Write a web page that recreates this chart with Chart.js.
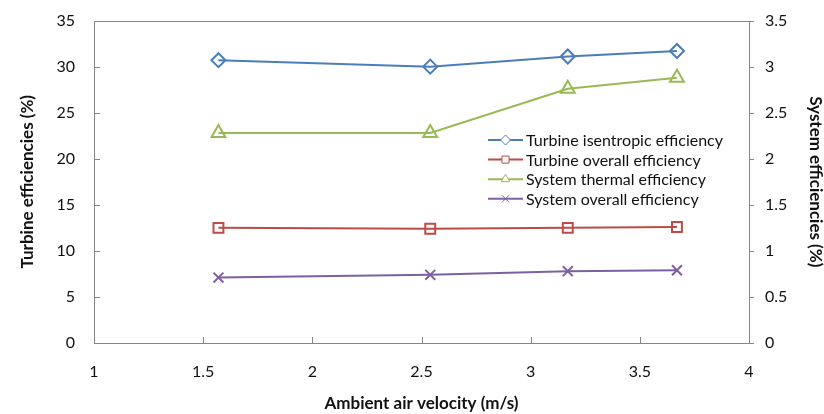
<!DOCTYPE html>
<html>
<head>
<meta charset="utf-8">
<script src="https://cdn.jsdelivr.net/npm/chart.js@4"></script>
<style>
  body { margin: 0; background: #fff; }
</style>
</head>
<body>
<canvas id="effChart" width="824" height="414"></canvas>
<script>
// data
const velocity = [1.57, 2.54, 3.17, 3.67];
const turbineIsentropic = [30.7, 30.0, 31.1, 31.7];
const turbineOverall = [12.5, 12.4, 12.5, 12.6];
const systemThermal = [2.28, 2.28, 2.76, 2.88];
const systemOverall = [0.71, 0.74, 0.78, 0.79];
const seriesNames = ['Turbine isentropic efficiency', 'Turbine overall efficiency',
                     'System thermal efficiency', 'System overall efficiency'];

const axisGrey = '#868686';
const toPoints = ys => ys.map((y, i) => ({ x: velocity[i], y: y }));
const plainTick = v => String(v);

// box around the plot + small inside tick marks
const frame = {
  id: 'frame',
  afterDraw(chart) {
    const { ctx, chartArea: a, scales } = chart;
    ctx.save();
    ctx.strokeStyle = axisGrey;
    ctx.lineWidth = 1;
    ctx.strokeRect(Math.round(a.left) + 0.5, Math.round(a.top) + 0.5,
                   Math.round(a.right - a.left), Math.round(a.bottom - a.top));
    ctx.beginPath();
    scales.y.ticks.forEach(t => {
      const py = Math.round(scales.y.getPixelForValue(t.value)) + 0.5;
      ctx.moveTo(a.left, py); ctx.lineTo(a.left + 6, py);
    });
    scales.y2.ticks.forEach(t => {
      const py = Math.round(scales.y2.getPixelForValue(t.value)) + 0.5;
      ctx.moveTo(a.right, py); ctx.lineTo(a.right + 5, py);
    });
    scales.x.ticks.forEach(t => {
      const px = Math.round(scales.x.getPixelForValue(t.value)) + 0.5;
      ctx.moveTo(px, a.bottom); ctx.lineTo(px, a.bottom - 6);
    });
    ctx.stroke();
    ctx.restore();
  }
};

// legend sitting inside the plot area
const insideLegend = {
  id: 'insideLegend',
  afterDraw(chart) {
    const ctx = chart.ctx;
    const x0 = 488, y0 = 140, rowH = 19.6;
    ctx.save();
    chart.data.datasets.forEach((ds, i) => {
      const y = y0 + i * rowH;
      ctx.strokeStyle = ds.borderColor;
      ctx.lineWidth = 2;
      ctx.beginPath();
      ctx.moveTo(x0, y); ctx.lineTo(x0 + 35, y);
      ctx.stroke();
      ctx.fillStyle = '#fff';
      ctx.strokeStyle = ds.pointBorderColor;
      ctx.lineWidth = 1;
      Chart.helpers.drawPoint(ctx, { pointStyle: ds.pointStyle, radius: 5, rotation: 0, borderWidth: 1 },
                              x0 + 17.5, y);
      ctx.fillStyle = '#111';
      ctx.font = '16px Lato';
      ctx.textAlign = 'left';
      ctx.textBaseline = 'middle';
      ctx.fillText(ds.label, x0 + 38, y + 1);
    });
    ctx.restore();
  }
};

const makeSet = (label, pts, color, ptColor, style, radius, axis) => ({
  label: label,
  data: toPoints(pts),
  yAxisID: axis,
  borderColor: color,
  borderWidth: 2,
  pointStyle: style,
  pointRadius: radius,
  pointHoverRadius: radius,
  pointBorderColor: ptColor,
  pointBackgroundColor: 'rgba(255,255,255,0)',
  pointBorderWidth: 2,
  showLine: true,
  fill: false
});

Chart.defaults.font.family = 'Lato';
Chart.defaults.color = '#111';

new Chart(document.getElementById('effChart'), {
  type: 'scatter',
  data: {
    datasets: [
      makeSet(seriesNames[0], turbineIsentropic, '#4A7EBB', '#4A7EBB', 'rectRot', 7, 'y'),
      makeSet(seriesNames[1], turbineOverall, '#BE4B48', '#BE4B48', 'rect', 7, 'y'),
      makeSet(seriesNames[2], systemThermal, '#98B954', '#98B954', 'triangle', 8, 'y2'),
      makeSet(seriesNames[3], systemOverall, '#7D60A0', '#7D60A0', 'crossRot', 7, 'y2')
    ]
  },
  options: {
    responsive: false,
    animation: false,
    devicePixelRatio: 1,
    layout: { padding: { top: 4, left: 0, right: 0, bottom: 0 } },
    plugins: { legend: { display: false }, tooltip: { enabled: false } },
    scales: {
      x: {
        type: 'linear', min: 1, max: 4,
        ticks: { stepSize: 0.5, padding: 11, font: { size: 16 }, callback: plainTick },
        grid: { display: false },
        border: { display: false },
        title: { display: true, text: 'Ambient air velocity (m/s)',
                 font: { size: 17, weight: 'bold' }, padding: { top: 0, bottom: 0 } },
        afterFit: s => { s.height = 71; }
      },
      y: {
        position: 'left', min: 0, max: 35,
        ticks: { stepSize: 5, padding: 11, font: { size: 16 }, callback: plainTick },
        grid: { display: false },
        border: { display: false },
        title: { display: true, text: 'Turbine efficiencies (%)',
                 font: { size: 17, weight: 'bold' }, padding: { top: 17, bottom: 0 } },
        afterFit: s => { s.width = 94; }
      },
      y2: {
        position: 'right', min: 0, max: 3.5,
        ticks: { stepSize: 0.5, padding: 8, font: { size: 16 }, callback: plainTick },
        grid: { display: false },
        border: { display: false },
        title: { display: true, text: 'System efficiencies (%)',
                 font: { size: 17, weight: 'bold', lineHeight: 1 }, padding: { top: 0, bottom: 0 } },
        afterFit: s => { s.width = 75; }
      }
    }
  },
  plugins: [frame, insideLegend]
});
</script>
</body>
</html>
